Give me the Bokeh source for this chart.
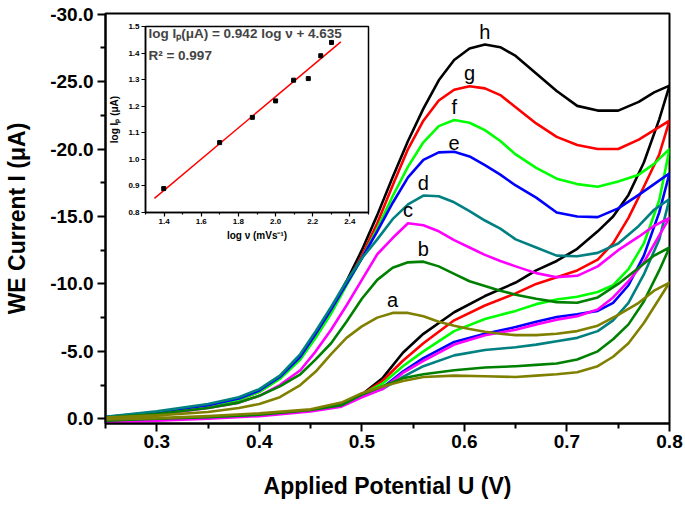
import numpy as np
from bokeh.plotting import figure
from bokeh.models import Range1d, FixedTicker, NumeralTickFormatter, Label, GridBox
from bokeh.core.properties import value
from bokeh.embed import file_html
from bokeh.resources import INLINE

# ---------------- data ----------------
curve_names = ["a", "b", "c", "d", "e", "f", "g", "h"]
curve_colors = ["#808000", "#008000", "#FF00FF", "#008080", "#0000FF", "#00FF00", "#FF0000", "#000000"]

# forward (anodic) sweep potentials, V
e_fwd = [0.25, 0.30, 0.35, 0.38, 0.40, 0.42, 0.44, 0.455, 0.47, 0.485, 0.50, 0.515, 0.53, 0.545,
         0.56, 0.575, 0.59, 0.605, 0.62, 0.635, 0.65, 0.67, 0.69, 0.71, 0.73, 0.75, 0.77, 0.785, 0.80]
# reverse sweep potentials, V
e_rev = [0.80, 0.79, 0.775, 0.76, 0.745, 0.73, 0.71, 0.69, 0.67, 0.65, 0.62, 0.59, 0.56,
         0.54, 0.52, 0.50, 0.48, 0.45, 0.40, 0.35, 0.30, 0.25]

i_fwd_a = [-0.10, -0.25, -0.50, -0.80, -1.10, -1.60, -2.50, -3.50, -4.80, -6.00, -6.85, -7.50, -7.85, -7.85,
           -7.60, -7.20, -6.90, -6.65, -6.45, -6.30, -6.20, -6.20, -6.30, -6.50, -6.90, -7.70, -8.60, -9.50, -10.10]
i_fwd_b = [-0.10, -0.35, -0.80, -1.20, -1.70, -2.40, -3.30, -4.40, -5.60, -7.20, -8.90, -10.30, -11.20, -11.60,
           -11.65, -11.30, -10.75, -10.20, -9.85, -9.50, -9.20, -8.90, -8.65, -8.60, -9.00, -10.00, -11.20, -12.10, -12.70]
i_fwd_c = [-0.05, -0.30, -0.80, -1.20, -1.70, -2.50, -3.60, -5.00, -6.60, -8.40, -10.30, -12.20, -13.40, -14.50,
           -14.35, -13.90, -13.25, -12.70, -12.15, -11.70, -11.30, -10.80, -10.50, -10.60, -11.30, -12.50, -13.50, -14.30, -14.90]
i_fwd_d = [-0.15, -0.55, -1.10, -1.60, -2.20, -3.20, -4.80, -6.50, -8.30, -10.20, -11.90, -13.30, -14.80, -15.90,
           -16.55, -16.50, -16.05, -15.40, -14.70, -14.10, -13.30, -12.70, -12.10, -12.05, -12.30, -13.00, -14.30, -15.50, -16.30]
i_fwd_e = [-0.12, -0.50, -1.00, -1.50, -2.10, -3.10, -4.60, -6.30, -8.10, -10.00, -11.90, -13.90, -16.00, -17.90,
           -19.20, -19.75, -19.80, -19.45, -18.80, -18.10, -17.30, -16.40, -15.30, -15.00, -14.95, -15.60, -16.60, -17.40, -18.20]
i_fwd_f = [-0.10, -0.45, -0.90, -1.40, -2.00, -2.95, -4.40, -6.00, -7.80, -9.90, -11.90, -14.10, -16.50, -18.70,
           -20.50, -21.70, -22.15, -21.95, -21.40, -20.60, -19.60, -18.60, -17.80, -17.40, -17.20, -17.60, -18.10, -18.90, -20.00]
i_fwd_g = [-0.10, -0.45, -0.90, -1.40, -2.00, -3.00, -4.50, -6.20, -8.00, -10.00, -12.10, -14.50, -17.30, -20.00,
           -22.10, -23.60, -24.40, -24.65, -24.50, -24.00, -23.10, -21.90, -20.90, -20.30, -20.00, -20.00, -20.70, -21.40, -22.10]
i_fwd_h = [-0.10, -0.45, -0.95, -1.50, -2.10, -3.10, -4.60, -6.30, -8.10, -10.20, -12.50, -15.10, -17.90, -20.60,
           -23.00, -25.10, -26.60, -27.45, -27.75, -27.55, -26.90, -25.60, -24.30, -23.20, -22.85, -22.85, -23.50, -24.20, -24.70]

i_rev_a = [-10.1, -8.9, -7.1, -5.6, -4.6, -3.9, -3.45, -3.3, -3.2, -3.1, -3.15, -3.2, -3.1,
           -2.8, -2.4, -1.9, -1.2, -0.7, -0.4, -0.2, -0.05, 0.05]
i_rev_b = [-12.7, -11.0, -8.7, -7.0, -5.9, -5.0, -4.4, -4.1, -4.0, -3.9, -3.8, -3.6, -3.3,
           -3.0, -2.4, -1.8, -1.0, -0.65, -0.3, -0.12, 0.0, 0.15]
i_rev_c = [-14.9, -13.6, -11.6, -10.2, -9.0, -8.1, -7.6, -7.35, -7.0, -6.6, -6.2, -5.5, -4.3,
           -3.4, -2.2, -1.6, -0.9, -0.55, -0.2, 0.0, 0.15, 0.3]
i_rev_d = [-16.3, -13.3, -10.7, -8.6, -7.3, -6.5, -6.0, -5.75, -5.5, -5.3, -5.1, -4.7, -3.9,
           -3.1, -2.2, -1.7, -1.0, -0.6, -0.3, -0.1, 0.05, 0.2]
i_rev_e = [-18.2, -15.3, -12.1, -9.9, -8.6, -8.0, -7.75, -7.55, -7.2, -6.8, -6.3, -5.7, -4.5,
           -3.5, -2.3, -1.7, -1.0, -0.6, -0.3, -0.1, 0.05, 0.2]
i_rev_f = [-20.0, -16.2, -13.0, -11.1, -9.9, -9.4, -9.05, -8.85, -8.5, -8.0, -7.4, -6.5, -5.0,
           -3.9, -2.6, -1.8, -1.0, -0.65, -0.3, -0.12, 0.0, 0.15]
i_rev_g = [-22.1, -19.6, -17.2, -14.9, -13.0, -11.8, -11.0, -10.5, -10.0, -9.3, -8.4, -7.3, -5.6,
           -4.3, -2.8, -1.8, -1.0, -0.65, -0.3, -0.12, 0.0, 0.15]
i_rev_h = [-24.7, -22.2, -19.0, -16.6, -15.0, -13.9, -12.6, -11.7, -11.0, -10.1, -9.1, -7.9, -6.3,
           -4.9, -3.0, -1.8, -1.0, -0.65, -0.3, -0.12, 0.0, 0.15]

x_ticks = [0.3, 0.4, 0.5, 0.6, 0.7, 0.8]
x_minor = [0.25, 0.35, 0.45, 0.55, 0.65, 0.75]
y_ticks = [0.0, -5.0, -10.0, -15.0, -20.0, -25.0, -30.0]
y_minor = [-2.5, -7.5, -12.5, -17.5, -22.5, -27.5]

# inset: log scan rate vs log peak current
log_v = [1.398, 1.699, 1.875, 2.000, 2.097, 2.176, 2.243, 2.301]
log_ip = [0.890, 1.063, 1.158, 1.220, 1.298, 1.304, 1.390, 1.440]
inset_x_ticks = [1.4, 1.6, 1.8, 2.0, 2.2, 2.4]
inset_x_minor = [1.3, 1.5, 1.7, 1.9, 2.1, 2.3, 2.5]
inset_y_ticks = [0.8, 0.9, 1.0, 1.1, 1.2, 1.3, 1.4, 1.5]
eq_text = "log I\u209a(\u03bcA) = 0.942 log \u03bd + 4.635"
r2_text = "R\u00b2 = 0.997"

fwd = [i_fwd_a, i_fwd_b, i_fwd_c, i_fwd_d, i_fwd_e, i_fwd_f, i_fwd_g, i_fwd_h]
rev = [i_rev_a, i_rev_b, i_rev_c, i_rev_d, i_rev_e, i_rev_f, i_rev_g, i_rev_h]

FONT = "Liberation Sans"

# ---------------- main figure ----------------
p = figure(width=685, height=506, output_backend="svg", toolbar_location=None,
           x_range=Range1d(0.25, 0.8), y_range=Range1d(0.35, -30.05),
           min_border_left=105, min_border_right=16, min_border_top=13, min_border_bottom=83)
p.frame_align = False
p.grid.visible = False
p.outline_line_color = "black"
p.outline_line_width = 2
p.outline_line_alpha = 1
p.background_fill_color = "white"
p.border_fill_color = "white"

for ax in (p.xaxis[0], p.yaxis[0]):
    ax.axis_line_width = 2
    ax.major_tick_line_width = 2
    ax.minor_tick_line_width = 2
    ax.major_tick_in = 0
    ax.minor_tick_in = 0
    ax.major_tick_out = 8
    ax.minor_tick_out = 5
    ax.major_label_text_font = FONT
    ax.major_label_text_font_style = "bold"
    ax.major_label_text_font_size = "19px"
    ax.major_label_text_color = "black"
    ax.axis_label_text_font = FONT
    ax.axis_label_text_font_style = "bold"
    ax.axis_label_text_font_size = "23px"
    ax.axis_label_text_color = "black"
    ax.formatter = NumeralTickFormatter(format="0.0")

p.xaxis[0].ticker = FixedTicker(ticks=x_ticks, minor_ticks=x_minor)
p.yaxis[0].ticker = FixedTicker(ticks=y_ticks, minor_ticks=y_minor)
p.xaxis[0].axis_label = "Applied Potential U (V)"
p.yaxis[0].axis_label = "WE Current I (\u03bcA)"
p.xaxis[0].major_label_standoff = 3
p.xaxis[0].axis_label_standoff = 22
p.yaxis[0].major_label_standoff = 4
p.yaxis[0].axis_label_standoff = 17

for k in range(len(curve_names) - 1, -1, -1):
    xs = list(e_fwd) + list(e_rev)
    ys = list(fwd[k]) + list(rev[k])
    p.line(xs, ys, line_color=curve_colors[k], line_width=2.6, line_join="round")

# curve letters placed above each forward (anodic) peak
lab_x, lab_y = [], []
n_peak_zone = sum(1 for v in e_fwd if v <= 0.70)
for k in range(len(curve_names)):
    seg = fwd[k][:n_peak_zone]
    j = int(np.argmin(seg))
    lab_x.append(e_fwd[j])
    lab_y.append(seg[j])
p.text(x=lab_x, y=lab_y, text=curve_names, text_font=value(FONT), text_font_size="20px",
       text_align="center", text_baseline="bottom", y_offset=-2, text_color="black")

# ---------------- inset ----------------
ins = figure(width=264, height=227, output_backend="svg", toolbar_location=None,
             x_range=Range1d(1.3, 2.5), y_range=Range1d(0.8, 1.5),
             min_border_left=37, min_border_right=2, min_border_top=8, min_border_bottom=33)
ins.frame_align = False
ins.grid.visible = False
ins.outline_line_color = "black"
ins.outline_line_width = 1.5
ins.outline_line_alpha = 1
ins.background_fill_color = "white"
ins.border_fill_alpha = 0
for ax in (ins.xaxis[0], ins.yaxis[0]):
    ax.axis_line_width = 1.5
    ax.major_tick_line_width = 1.2
    ax.minor_tick_line_width = 1.2
    ax.major_tick_in = 0
    ax.minor_tick_in = 0
    ax.major_tick_out = 4
    ax.minor_tick_out = 2
    ax.major_label_standoff = 2
    ax.major_label_text_font = FONT
    ax.major_label_text_font_style = "bold"
    ax.major_label_text_font_size = "8px"
    ax.major_label_text_color = "black"
    ax.axis_label_text_font = FONT
    ax.axis_label_text_font_style = "bold"
    ax.axis_label_text_font_size = "10px"
    ax.axis_label_text_color = "black"
    ax.formatter = NumeralTickFormatter(format="0.0")
ins.xaxis[0].ticker = FixedTicker(ticks=inset_x_ticks, minor_ticks=inset_x_minor)
ins.yaxis[0].ticker = FixedTicker(ticks=inset_y_ticks)
ins.xaxis[0].axis_label = "log \u03bd (mVs\u207b\u00b9)"
ins.yaxis[0].axis_label = "log I\u209a (\u03bcA)"
ins.xaxis[0].axis_label_standoff = 3
ins.yaxis[0].axis_label_standoff = 5

slope, icpt = np.polyfit(log_v, log_ip, 1)
fit_x = np.array([min(log_v) - 0.05, max(log_v) + 0.05])
ins.line(fit_x, slope * fit_x + icpt, line_color="red", line_width=1.5)
ins.scatter(log_v, log_ip, marker="square", size=4, color="black")

ins.add_layout(Label(x=1.316, y=1.474, text=eq_text, text_font=FONT, text_font_style="bold",
                     text_font_size="13.5px", text_baseline="middle", text_align="left"))
ins.add_layout(Label(x=1.316, y=1.391, text=r2_text, text_font=FONT, text_font_style="bold",
                     text_font_size="13.5px", text_baseline="middle", text_align="left"))

# inset overlaps the main plot: both children share grid cell (0, 0)
ins.margin = (18, 0, 0, 106)
p.margin = (0, 0, 0, 0)
root = GridBox(children=[(p, 0, 0), (ins, 0, 0)])

open("out.html", "w").write(file_html(root, INLINE))
